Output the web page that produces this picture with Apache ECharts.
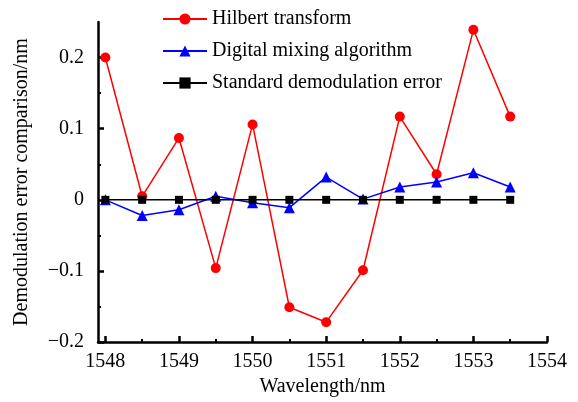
<!DOCTYPE html>
<html lang="en">
<head>
    <meta charset="UTF-8">
    <title>Demodulation error comparison</title>
    <style>
        body{margin:0;background:#fff;}
        #mychart{width:578px;height:402px;}
    </style>
</head>
<body>
    <div id="mychart"></div>
    <script src="https://cdn.jsdelivr.net/npm/echarts@6/dist/echarts.min.js"></script>
    <script>
        var wavelength=[1548,1548.5,1549,1549.5,1550,1550.5,1551,1551.5,1552,1552.5,1553,1553.5]
        var hilbert=[0.2,0.005,0.087,-0.096,0.106,-0.151,-0.172,-0.099,0.117,0.036,0.239,0.117]
        var mixing=[0,-0.022,-0.014,0.005,-0.004,-0.011,0.032,0.001,0.018,0.025,0.038,0.018]
        var standard=[0,0,0,0,0,0,0,0,0,0,0,0]
        var xTicks=[1548,1549,1550,1551,1552,1553,1554]
        var xMinorTicks=[1548.5,1549.5,1550.5,1551.5,1552.5,1553.5]
        var yTicks=[-0.2,-0.1,0,0.1,0.2]
        var yMinorTicks=[-0.15,-0.05,0.05,0.15]

        var font='Liberation Serif'
        function pairs(ys){
            return ys.map((y,i)=>[wavelength[i],y])
        }

        var myChart=echarts.init(document.getElementById('mychart'))
        var option={
            animation:false,
            textStyle:{fontFamily:font},
            grid:{left:98,right:31,top:22,bottom:58},
            legend:{
                orient:'vertical',
                left:157,
                top:4,
                itemWidth:44,
                itemHeight:14,
                itemGap:12,
                textStyle:{fontFamily:font,fontSize:20,color:'#000'},
                data:['Hilbert transform','Digital mixing algorithm','Standard demodulation error']
            },
            xAxis:[
                {
                    type:'value',
                    min:1547.9,
                    max:1554,
                    name:'Wavelength/nm',
                    nameLocation:'middle',
                    nameGap:34,
                    nameTextStyle:{fontFamily:font,fontSize:20,color:'#000'},
                    axisLine:{onZero:false,lineStyle:{color:'#000',width:2.5}},
                    axisTick:{inside:true,length:6,lineStyle:{color:'#000',width:2.5},customValues:xTicks},
                    axisLabel:{fontFamily:font,fontSize:20,color:'#000',margin:10,customValues:xTicks,
                        formatter:(v)=>String(v)},
                    splitLine:{show:false}
                },
                {
                    type:'value',
                    min:1547.9,
                    max:1554,
                    position:'bottom',
                    axisLine:{show:false,onZero:false},
                    axisTick:{inside:true,length:3,lineStyle:{color:'#000',width:2},customValues:xMinorTicks},
                    axisLabel:{show:false,customValues:xMinorTicks},
                    splitLine:{show:false}
                }
            ],
            yAxis:[
                {
                    type:'value',
                    min:-0.2,
                    max:0.25,
                    name:'Demodulation error comparison/nm',
                    nameLocation:'middle',
                    nameGap:66,
                    nameTextStyle:{fontFamily:font,fontSize:20,color:'#000'},
                    axisLine:{show:true,onZero:false,lineStyle:{color:'#000',width:2.5}},
                    axisTick:{show:true,inside:true,length:6,lineStyle:{color:'#000',width:2.5},customValues:yTicks},
                    axisLabel:{
                        fontFamily:font,fontSize:20,color:'#000',margin:14,customValues:yTicks,
                        formatter:(v)=>String(Math.round(v*100)/100).replace('-','\u2212')
                    },
                    splitLine:{show:false}
                },
                {
                    type:'value',
                    min:-0.2,
                    max:0.25,
                    position:'left',
                    axisLine:{show:false,onZero:false},
                    axisTick:{show:true,inside:true,length:3,lineStyle:{color:'#000',width:2},customValues:yMinorTicks},
                    axisLabel:{show:false,customValues:yMinorTicks},
                    splitLine:{show:false}
                }
            ],
            series:[
                {
                    name:'Hilbert transform',
                    type:'line',
                    data:pairs(hilbert),
                    symbol:'circle',
                    symbolSize:10,
                    itemStyle:{color:'#ff0000'},
                    lineStyle:{color:'#ff0000',width:1.5}
                },
                {
                    name:'Digital mixing algorithm',
                    type:'line',
                    data:pairs(mixing),
                    symbol:'triangle',
                    symbolSize:11,
                    itemStyle:{color:'#0000ff'},
                    lineStyle:{color:'#0000ff',width:1.5}
                },
                {
                    name:'Standard demodulation error',
                    type:'line',
                    data:pairs(standard),
                    symbol:'rect',
                    symbolSize:8,
                    itemStyle:{color:'#000'},
                    lineStyle:{color:'#000',width:1.5}
                }
            ]
        }
        myChart.setOption(option)
    </script>
</body>
</html>
